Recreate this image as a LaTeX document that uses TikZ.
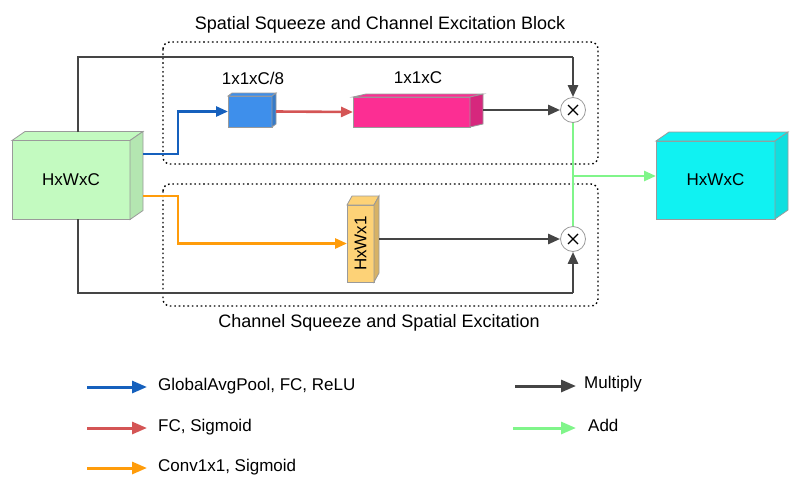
\documentclass[tikz,border=0pt]{standalone}
\usepackage{fontspec}
\setmainfont{Liberation Sans}
\usetikzlibrary{arrows.meta}
\definecolor{dk}{HTML}{454545}
\definecolor{bl}{HTML}{1560BD}
\definecolor{rd}{HTML}{D45555}
\definecolor{org}{HTML}{FF9C0A}
\definecolor{gn}{HTML}{80F58A}
\definecolor{boxg}{HTML}{C3FAC0}
\definecolor{boxc}{HTML}{10F2F2}
\definecolor{boxb}{HTML}{3E8FEB}
\definecolor{boxp}{HTML}{FC2E93}
\definecolor{boxy}{HTML}{FDD277}
\definecolor{edge}{HTML}{9A9A9A}
\tikzset{
  face/.style={draw=edge, line width=0.8pt, inner sep=0pt, outer sep=0pt, rectangle},
  conn/.style={line width=2.6pt, -{Triangle[length=12pt,width=10pt]}},
  plain/.style={line width=2.6pt},
  dotbox/.style={draw=black, line width=1.4pt, dash pattern=on 1.6pt off 2.8pt, rounded corners=7pt},
  mult/.style={circle, draw=edge, line width=0.8pt, minimum size=25pt, inner sep=0pt, fill=white,
    path picture={\draw[black, line width=1.1pt]
      ([shift={(-5pt,-5pt)}]path picture bounding box.center) -- ([shift={(5pt,5pt)}]path picture bounding box.center)
      ([shift={(-5pt,5pt)}]path picture bounding box.center) -- ([shift={(5pt,-5pt)}]path picture bounding box.center);}},
  lbl/.style={font=\fontsize{17}{20}\selectfont, inner sep=0pt},
  ttl/.style={font=\fontsize{18}{21}\selectfont, inner sep=0pt},
  leg/.style={line width=3pt, -{Triangle[length=15pt,width=12pt]}}
}
\begin{document}
\begin{tikzpicture}[x=1pt,y=-1pt]
\useasboundingbox (0,0) rectangle (800,493);
% dotted blocks
\draw[dotbox] (163,42) rectangle (598,164);
\draw[dotbox] (163,184) rectangle (598,306);
\node[ttl] (t1) at (380,25) {Spatial Squeeze and Channel Excitation Block};
\node[ttl] (t2) at (379,323) {Channel Squeeze and Spatial Excitation};
% input box
\node[face, fill=boxg, minimum width=118pt, minimum height=79pt, lbl] (L) at (71,180) {HxWxC};
\fill[boxg, draw=edge, line width=0.8pt] (L.north west) -- ++(13,-9) -- ++(118,0) -- (L.north east) -- cycle;
\fill[boxg!92!black, draw=edge, line width=0.8pt] (L.north east) -- ++(13,-9) -- ++(0,79) -- (L.south east) -- cycle;
% output box
\node[face, fill=boxc, minimum width=119pt, minimum height=78pt, lbl] (R) at (715.5,180) {HxWxC};
\fill[boxc, draw=edge, line width=0.8pt] (R.north west) -- ++(13,-9) -- ++(119,0) -- (R.north east) -- cycle;
\fill[boxc!92!black, draw=edge, line width=0.8pt] (R.north east) -- ++(13,-9) -- ++(0,78) -- (R.south east) -- cycle;
% blue box
\node[face, fill=boxb, minimum width=44pt, minimum height=31pt] (B) at (250,111.5) {};
\fill[boxb, draw=edge, line width=0.8pt] (B.north west) -- ++(4,-3) -- ++(44,0) -- (B.north east) -- cycle;
\fill[boxb!85!black, draw=edge, line width=0.8pt] (B.north east) -- ++(4,-3) -- ++(0,31) -- (B.south east) -- cycle;
\node[lbl] (lb) at (253,78) {1x1xC/8};
% pink box
\node[face, fill=boxp, minimum width=117pt, minimum height=30pt] (P) at (411.5,112) {};
\fill[boxp, draw=edge, line width=0.8pt] (P.north west) -- ++(13,-3) -- ++(117,0) -- (P.north east) -- cycle;
\fill[boxp!85!black, draw=edge, line width=0.8pt] (P.north east) -- ++(13,-3) -- ++(0,30) -- (P.south east) -- cycle;
\node[lbl] (lp) at (418,78) {1x1xC};
% yellow box
\node[face, fill=boxy, minimum width=27pt, minimum height=77pt] (Y) at (360.5,243.5) {};
\fill[boxy, draw=edge, line width=0.8pt] (Y.north west) -- ++(5,-9) -- ++(27,0) -- (Y.north east) -- cycle;
\fill[boxy!85!black, draw=edge, line width=0.8pt] (Y.north east) -- ++(5,-9) -- ++(0,77) -- (Y.south east) -- cycle;
\node[lbl, rotate=90] (ly) at (Y.center) {HxWx1};
% multiply circles
\node[mult] (m1) at (573,110) {};
\node[mult] (m2) at (573,239) {};
% coordinates on input box
\coordinate (Lt) at (78,132);
\coordinate (Lbt) at (78,219);
\coordinate (Lb1) at (143,154);
\coordinate (Lb2) at (143,196);
\coordinate (top) at (573,57);
\coordinate (bot) at (573,293);
\coordinate (gj) at (573,176);
% skip connections
\draw[dk, plain] (Lt) |- (top);
\draw[dk, conn] (top) -- (m1.north);
\draw[dk, plain] (Lbt) |- (bot);
\draw[dk, conn] (bot) -- (m2.south);
% branches
\draw[bl, conn] (Lb1) -- (178,154) |- (B.west);
\draw[rd, conn] ([xshift=4pt]B.east) -- (P.west);
\draw[dk, conn] ([xshift=13pt]P.east |- m1) -- (m1.west);
\draw[org, conn] (Lb2) -- (178,196) |- (Y.west);
\draw[dk, conn] ([xshift=5pt]Y.east |- m2) -- (m2.west);
% add
\draw[gn, plain] (m1.south) -- (m2.north);
\draw[gn, conn] (gj) -- (gj -| R.west);
% legend
\coordinate (a1) at (87,387); \coordinate (b1) at (147,387);
\coordinate (a2) at (87,428); \coordinate (b2) at (147,428);
\coordinate (a3) at (87,468); \coordinate (b3) at (147,468);
\coordinate (a4) at (515,386); \coordinate (b4) at (576,386);
\coordinate (a5) at (513,428); \coordinate (b5) at (576,428);
\draw[bl, leg] (a1) -- (b1);
\draw[rd, leg] (a2) -- (b2);
\draw[org, leg] (a3) -- (b3);
\draw[dk, leg] (a4) -- (b4);
\draw[gn, leg] (a5) -- (b5);
\node[lbl, anchor=west] (g1) at (158,386) {GlobalAvgPool, FC, ReLU};
\node[lbl, anchor=west] (g2) at (158,427) {FC, Sigmoid};
\node[lbl, anchor=west] (g3) at (158,467) {Conv1x1, Sigmoid};
\node[lbl, anchor=west] (g4) at (584,384) {Multiply};
\node[lbl, anchor=west] (g5) at (588,425) {Add};
\end{tikzpicture}
\end{document}
